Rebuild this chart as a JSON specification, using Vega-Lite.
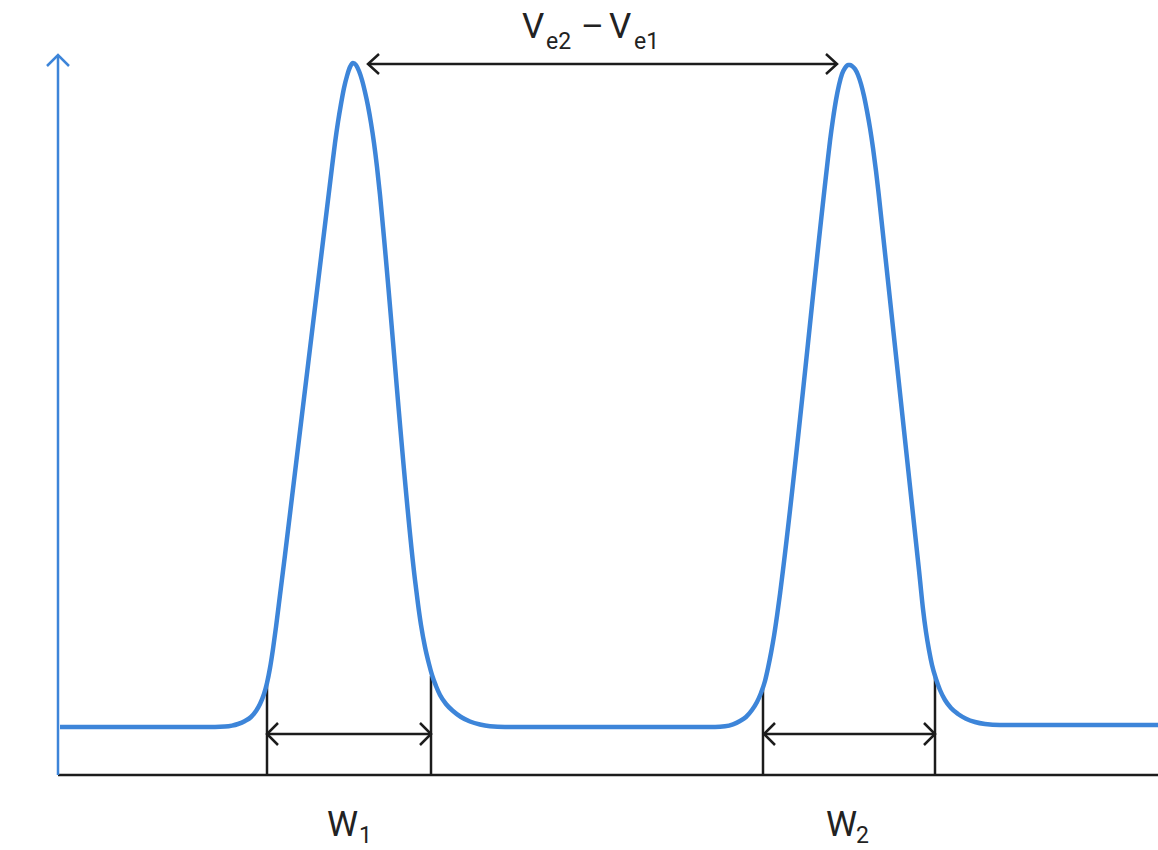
{
  "$schema": "https://vega.github.io/schema/vega-lite/v6.json",
  "width": 1158,
  "height": 850,
  "padding": 0,
  "autosize": {"type": "none"},
  "background": "white",
  "config": {"view": {"stroke": null}},
  "datasets": {
    "curve": [
      {"x": 60, "y": 727}, {"x": 215, "y": 727}, {"x": 225, "y": 726.6}, {"x": 232, "y": 725.6},
      {"x": 238, "y": 724}, {"x": 245, "y": 721}, {"x": 251, "y": 717}, {"x": 256, "y": 711},
      {"x": 260, "y": 704}, {"x": 264, "y": 694}, {"x": 267, "y": 683}, {"x": 270, "y": 668},
      {"x": 273, "y": 649}, {"x": 276, "y": 627}, {"x": 280, "y": 595}, {"x": 285, "y": 555},
      {"x": 332, "y": 167},
      {"x": 335, "y": 143}, {"x": 338, "y": 122}, {"x": 341, "y": 104}, {"x": 344, "y": 88},
      {"x": 347, "y": 76}, {"x": 350, "y": 67}, {"x": 353, "y": 63}, {"x": 356, "y": 65},
      {"x": 359, "y": 71}, {"x": 362, "y": 80}, {"x": 365, "y": 92}, {"x": 368, "y": 106},
      {"x": 371, "y": 123}, {"x": 374, "y": 143}, {"x": 377, "y": 167}, {"x": 380, "y": 195},
      {"x": 383, "y": 227},
      {"x": 415, "y": 580}, {"x": 418, "y": 604}, {"x": 421, "y": 625}, {"x": 425, "y": 647},
      {"x": 429, "y": 664}, {"x": 432, "y": 675}, {"x": 436, "y": 686}, {"x": 440, "y": 695},
      {"x": 446, "y": 704}, {"x": 453, "y": 711}, {"x": 461, "y": 717}, {"x": 470, "y": 721.5},
      {"x": 480, "y": 724.5}, {"x": 490, "y": 726.2}, {"x": 505, "y": 727},
      {"x": 715, "y": 727}, {"x": 725, "y": 726.3}, {"x": 733, "y": 724.3}, {"x": 740, "y": 721},
      {"x": 746, "y": 717}, {"x": 752, "y": 710}, {"x": 757, "y": 702}, {"x": 761, "y": 693},
      {"x": 765, "y": 681}, {"x": 768, "y": 668}, {"x": 771, "y": 653}, {"x": 774, "y": 636},
      {"x": 777, "y": 616}, {"x": 780, "y": 594}, {"x": 783, "y": 570},
      {"x": 827, "y": 167}, {"x": 830, "y": 141}, {"x": 833, "y": 119}, {"x": 836, "y": 100},
      {"x": 839, "y": 85}, {"x": 842, "y": 74}, {"x": 845, "y": 68}, {"x": 848, "y": 65},
      {"x": 850, "y": 65}, {"x": 852, "y": 66}, {"x": 855, "y": 69}, {"x": 858, "y": 75},
      {"x": 861, "y": 84}, {"x": 864, "y": 96}, {"x": 867, "y": 111}, {"x": 870, "y": 128},
      {"x": 873, "y": 148}, {"x": 876, "y": 171}, {"x": 879, "y": 197}, {"x": 920, "y": 580},
      {"x": 923, "y": 609},
      {"x": 926, "y": 632}, {"x": 929, "y": 650}, {"x": 932, "y": 665}, {"x": 936, "y": 679},
      {"x": 940, "y": 690}, {"x": 945, "y": 700}, {"x": 951, "y": 708}, {"x": 958, "y": 714},
      {"x": 966, "y": 718.7}, {"x": 975, "y": 722}, {"x": 985, "y": 724}, {"x": 1000, "y": 725},
      {"x": 1158, "y": 725}
    ],
    "blue": [
      {"id": "yaxis", "i": 0, "x": 58, "y": 775}, {"id": "yaxis", "i": 1, "x": 58, "y": 55},
      {"id": "yhead", "i": 0, "x": 47, "y": 66}, {"id": "yhead", "i": 1, "x": 58, "y": 55}, {"id": "yhead", "i": 2, "x": 69, "y": 66}
    ],
    "black": [
      {"id": "xaxis", "i": 0, "x": 58, "y": 775}, {"id": "xaxis", "i": 1, "x": 1158, "y": 775},
      {"id": "v1", "i": 0, "x": 267, "y": 682}, {"id": "v1", "i": 1, "x": 267, "y": 775},
      {"id": "v2", "i": 0, "x": 431, "y": 676}, {"id": "v2", "i": 1, "x": 431, "y": 775},
      {"id": "v3", "i": 0, "x": 763, "y": 687}, {"id": "v3", "i": 1, "x": 763, "y": 775},
      {"id": "v4", "i": 0, "x": 935, "y": 677}, {"id": "v4", "i": 1, "x": 935, "y": 775},
      {"id": "top", "i": 0, "x": 368, "y": 64}, {"id": "top", "i": 1, "x": 837, "y": 64},
      {"id": "w1", "i": 0, "x": 267, "y": 734}, {"id": "w1", "i": 1, "x": 431, "y": 734},
      {"id": "w2", "i": 0, "x": 764, "y": 734}, {"id": "w2", "i": 1, "x": 935, "y": 734},
      {"id": "h1", "i": 0, "x": 379, "y": 54}, {"id": "h1", "i": 1, "x": 368, "y": 64}, {"id": "h1", "i": 2, "x": 379, "y": 74},
      {"id": "h2", "i": 0, "x": 826, "y": 54}, {"id": "h2", "i": 1, "x": 837, "y": 64}, {"id": "h2", "i": 2, "x": 826, "y": 74},
      {"id": "h3", "i": 0, "x": 278, "y": 723}, {"id": "h3", "i": 1, "x": 267, "y": 734}, {"id": "h3", "i": 2, "x": 278, "y": 745},
      {"id": "h4", "i": 0, "x": 420, "y": 723}, {"id": "h4", "i": 1, "x": 431, "y": 734}, {"id": "h4", "i": 2, "x": 420, "y": 745},
      {"id": "h5", "i": 0, "x": 775, "y": 723}, {"id": "h5", "i": 1, "x": 764, "y": 734}, {"id": "h5", "i": 2, "x": 775, "y": 745},
      {"id": "h6", "i": 0, "x": 924, "y": 723}, {"id": "h6", "i": 1, "x": 935, "y": 734}, {"id": "h6", "i": 2, "x": 924, "y": 745}
    ],
    "big": [
      {"t": "V", "x": 522, "y": 38}, {"t": "–", "x": 581, "y": 38}, {"t": "V", "x": 609, "y": 38},
      {"t": "W", "x": 327, "y": 836}, {"t": "W", "x": 826, "y": 836}
    ],
    "small": [
      {"t": "e2", "x": 546, "y": 49}, {"t": "e1", "x": 634, "y": 49},
      {"t": "1", "x": 359, "y": 843}, {"t": "2", "x": 856, "y": 843}
    ]
  },
  "layer": [
    {
      "data": {"name": "black"},
      "mark": {"type": "line", "color": "#1c1c1c", "strokeWidth": 2.5, "strokeCap": "butt", "strokeJoin": "miter", "clip": false},
      "encoding": {
        "x": {"field": "x", "type": "quantitative", "scale": {"domain": [0, 1158], "nice": false, "zero": false}, "axis": null},
        "y": {"field": "y", "type": "quantitative", "scale": {"domain": [0, 850], "nice": false, "zero": false, "reverse": true}, "axis": null},
        "detail": {"field": "id"},
        "order": {"field": "i", "type": "quantitative"}
      }
    },
    {
      "data": {"name": "blue"},
      "mark": {"type": "line", "color": "#3d85d9", "strokeWidth": 2.5, "strokeCap": "butt", "strokeJoin": "miter", "clip": false},
      "encoding": {
        "x": {"field": "x", "type": "quantitative", "scale": {"domain": [0, 1158], "nice": false, "zero": false}, "axis": null},
        "y": {"field": "y", "type": "quantitative", "scale": {"domain": [0, 850], "nice": false, "zero": false, "reverse": true}, "axis": null},
        "detail": {"field": "id"},
        "order": {"field": "i", "type": "quantitative"}
      }
    },
    {
      "data": {"name": "curve"},
      "mark": {"type": "line", "color": "#3d85d9", "strokeWidth": 4.5, "interpolate": "monotone", "strokeCap": "butt", "strokeJoin": "round", "clip": false},
      "encoding": {
        "x": {"field": "x", "type": "quantitative", "scale": {"domain": [0, 1158], "nice": false, "zero": false}, "axis": null},
        "y": {"field": "y", "type": "quantitative", "scale": {"domain": [0, 850], "nice": false, "zero": false, "reverse": true}, "axis": null}
      }
    },
    {
      "data": {"name": "big"},
      "mark": {"type": "text", "font": "Roboto", "fontSize": 35, "color": "#222222", "align": "left", "baseline": "alphabetic"},
      "encoding": {
        "x": {"field": "x", "type": "quantitative", "scale": {"domain": [0, 1158], "nice": false, "zero": false}, "axis": null},
        "y": {"field": "y", "type": "quantitative", "scale": {"domain": [0, 850], "nice": false, "zero": false, "reverse": true}, "axis": null},
        "text": {"field": "t"}
      }
    },
    {
      "data": {"name": "small"},
      "mark": {"type": "text", "font": "Roboto", "fontSize": 23, "color": "#222222", "align": "left", "baseline": "alphabetic"},
      "encoding": {
        "x": {"field": "x", "type": "quantitative", "scale": {"domain": [0, 1158], "nice": false, "zero": false}, "axis": null},
        "y": {"field": "y", "type": "quantitative", "scale": {"domain": [0, 850], "nice": false, "zero": false, "reverse": true}, "axis": null},
        "text": {"field": "t"}
      }
    }
  ]
}
